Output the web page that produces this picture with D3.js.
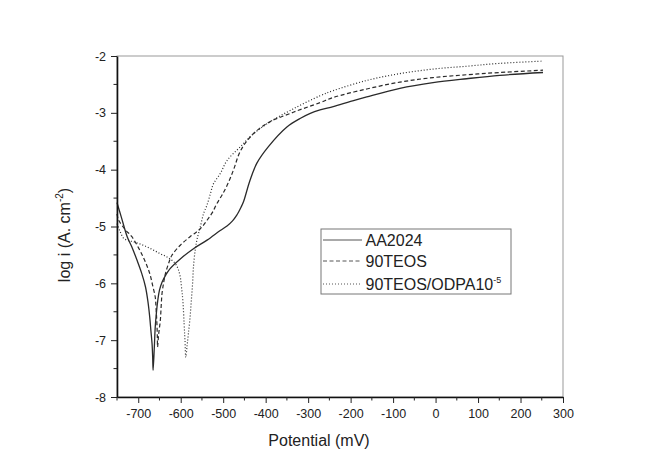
<!DOCTYPE html>
<html>
<head>
<meta charset="utf-8">
<script src="https://cdn.jsdelivr.net/npm/d3@7"></script>
<style>
  body { margin: 0; background: #fff; }
  svg { font-family: "Liberation Sans", Arial, sans-serif; }
</style>
</head>
<body>
<div id="viz"></div>
<script>
const width = 652;
const height = 456;
const margin = {top: 56, right: 89, bottom: 59, left: 117};

// Potential (mV) / log i readings for each sample
const aa2024 = [
  [-750, -4.58], [-740, -4.83], [-726, -5.18], [-715, -5.36], [-703, -5.59], [-692, -5.82],
  [-683, -6.06], [-677, -6.33], [-673, -6.59], [-670, -6.85], [-667.5, -7.06], [-666, -7.3],
  [-665, -7.53], [-662, -7.1], [-660, -6.77], [-657, -6.5], [-654, -6.3], [-650, -6.12],
  [-644, -5.98], [-635, -5.85], [-625, -5.74], [-601, -5.57], [-570, -5.39], [-538, -5.24],
  [-507, -5.07], [-491, -4.99], [-478, -4.9], [-468, -4.8], [-458, -4.66], [-452, -4.56],
  [-437, -4.19], [-421, -3.89], [-394, -3.6], [-350, -3.25], [-319, -3.1], [-295, -3.01],
  [-272, -2.95], [-241, -2.89], [-200, -2.8], [-162, -2.72], [-84, -2.57], [-6, -2.47],
  [73, -2.4], [151, -2.34], [253, -2.29]
];
const teos90 = [
  [-750, -4.78], [-746, -4.89], [-730, -5.06], [-715, -5.18], [-699, -5.38], [-687, -5.56],
  [-678, -5.72], [-672, -5.85], [-666, -6.04], [-660, -6.24], [-658, -6.45], [-656, -6.71],
  [-655, -6.95], [-654.5, -7.12], [-652, -6.9], [-648, -6.65], [-646, -6.4], [-644, -6.18],
  [-640, -5.98], [-636, -5.83], [-629, -5.66], [-621, -5.51], [-601, -5.33], [-578, -5.18],
  [-560, -5.08], [-549, -5.0], [-538, -4.89], [-526, -4.76], [-515, -4.6], [-503, -4.45],
  [-491, -4.28], [-476, -4.01], [-460, -3.68], [-437, -3.43], [-398, -3.19], [-335, -2.99],
  [-272, -2.82], [-241, -2.73], [-162, -2.58], [-84, -2.46], [-6, -2.38], [73, -2.33],
  [151, -2.29], [253, -2.25]
];
const odpa = [
  [-750, -4.95], [-742, -5.1], [-734, -5.21], [-722, -5.25], [-711, -5.27], [-695, -5.31],
  [-679, -5.36], [-663, -5.42], [-648, -5.48], [-636, -5.52], [-625, -5.57], [-613, -5.65],
  [-606, -5.75], [-601, -5.89], [-598, -6.08], [-595, -6.3], [-592, -6.71], [-590, -7.0],
  [-588, -7.3], [-585, -7.1], [-582, -6.89], [-578, -6.6], [-575, -6.3], [-572, -6.0],
  [-570, -5.71], [-566, -5.42], [-562, -5.24], [-554, -5.01], [-546, -4.77], [-538, -4.62],
  [-530, -4.42], [-523, -4.25], [-507, -4.07], [-491, -3.84], [-460, -3.6], [-429, -3.37],
  [-390, -3.16], [-335, -2.93], [-272, -2.7], [-241, -2.61], [-162, -2.43], [-84, -2.31],
  [-6, -2.23], [73, -2.18], [151, -2.13], [253, -2.09]
];

const seriesList = [
  {label: 'AA2024', sup: '', values: aa2024, dash: null, width: 1.3},
  {label: '90TEOS', sup: '', values: teos90, dash: '4,2.5', width: 1.2},
  {label: '90TEOS/ODPA10', sup: '-5', values: odpa, dash: '1,2', width: 1.2}
];

const xTicks = [-700, -600, -500, -400, -300, -200, -100, 0, 100, 200, 300];
const yTicks = [-8, -7, -6, -5, -4, -3, -2];

const svg = d3.select('#viz')
  .append('svg')
    .attr('width', width)
    .attr('height', height);

const scaleX = d3.scaleLinear()
  .domain([-750, 300])
  .range([margin.left, width - margin.right]);

const scaleY = d3.scaleLinear()
  .domain([-8, -2])
  .range([height - margin.bottom, margin.top]);

// Frame (top / right)
svg.append('rect')
  .attr('x', margin.left)
  .attr('y', margin.top)
  .attr('width', scaleX(300) - margin.left)
  .attr('height', scaleY(-8) - margin.top)
  .attr('fill', 'none')
  .attr('stroke', '#999')
  .attr('stroke-width', 1);

// Curves
const line = d3.line()
  .x(d => scaleX(d[0]))
  .y(d => scaleY(d[1]))
  .curve(d3.curveCatmullRom.alpha(0.5));

svg.append('g')
  .selectAll('path')
  .data(seriesList)
  .join('path')
    .attr('d', d => line(d.values))
    .attr('fill', 'none')
    .attr('stroke', '#2a2a2a')
    .attr('stroke-width', d => d.width)
    .attr('stroke-dasharray', d => d.dash);

// X axis
const axisBottom = d3.axisBottom(scaleX)
  .tickValues(xTicks)
  .tickFormat(d => String(d))
  .tickSize(6)
  .tickSizeOuter(0)
  .tickPadding(6);
const xAxis = svg.append('g')
  .attr('transform', `translate(0,${scaleY(-8)})`)
  .call(axisBottom);
xAxis.append('g')
  .selectAll('line')
  .data(d3.range(-750, 300, 50).filter(v => v % 100 !== 0))
  .join('line')
    .attr('x1', d => scaleX(d)).attr('x2', d => scaleX(d))
    .attr('y1', 0).attr('y2', 3.5)
    .attr('stroke', '#222');

// Y axis
const axisLeft = d3.axisLeft(scaleY)
  .tickValues(yTicks)
  .tickFormat(d => String(d))
  .tickSize(6)
  .tickSizeOuter(0)
  .tickPadding(5);
const yAxis = svg.append('g')
  .attr('transform', `translate(${margin.left},0)`)
  .call(axisLeft);
yAxis.append('g')
  .selectAll('line')
  .data(d3.range(-7.5, -2, 1))
  .join('line')
    .attr('x1', 0).attr('x2', -3.5)
    .attr('y1', d => scaleY(d)).attr('y2', d => scaleY(d))
    .attr('stroke', '#222');

[xAxis, yAxis].forEach(ax => {
  ax.select('.domain').attr('stroke', '#111').attr('stroke-width', 1.6);
  ax.selectAll('.tick line').attr('stroke', '#222');
  ax.selectAll('text')
    .style('font-size', '12.5px')
    .attr('fill', '#222');
});

// Axis labels
svg.append('text')
  .attr('x', 319)
  .attr('y', 446)
  .attr('text-anchor', 'middle')
  .style('font-size', '16px')
  .attr('fill', '#222')
  .text('Potential (mV)');

const yLabel = svg.append('text')
  .attr('text-anchor', 'middle')
  .attr('transform', `translate(70, 235) rotate(-90)`)
  .style('font-size', '16px')
  .attr('fill', '#222');
yLabel.append('tspan').text('log i (A. cm');
yLabel.append('tspan').attr('dy', -7).style('font-size', '10px').text('-2');
yLabel.append('tspan').attr('dy', 7).text(')');

// Legend
const legendBox = {x: 321, y: 229, w: 190, h: 65};
const legend = svg.append('g');
legend.append('rect')
  .attr('x', legendBox.x)
  .attr('y', legendBox.y)
  .attr('width', legendBox.w)
  .attr('height', legendBox.h)
  .attr('fill', '#fff')
  .attr('stroke', '#777')
  .attr('stroke-width', 1);

const rowY = [240, 261, 284];
const item = legend.selectAll('g.item')
  .data(seriesList)
  .join('g')
    .attr('class', 'item')
    .attr('transform', (d, i) => `translate(${legendBox.x}, ${rowY[i]})`);
item.append('line')
  .attr('x1', 2).attr('x2', 41)
  .attr('y1', 0).attr('y2', 0)
  .attr('stroke', '#555')
  .attr('stroke-width', 1)
  .attr('stroke-dasharray', d => d.dash);
const itemText = item.append('text')
  .attr('x', 44.5)
  .attr('y', 6)
  .style('font-size', '16px')
  .attr('fill', '#222');
itemText.append('tspan').text(d => d.label);
itemText.append('tspan')
  .attr('dy', -7)
  .style('font-size', '9px')
  .text(d => d.sup);
</script>
</body>
</html>
